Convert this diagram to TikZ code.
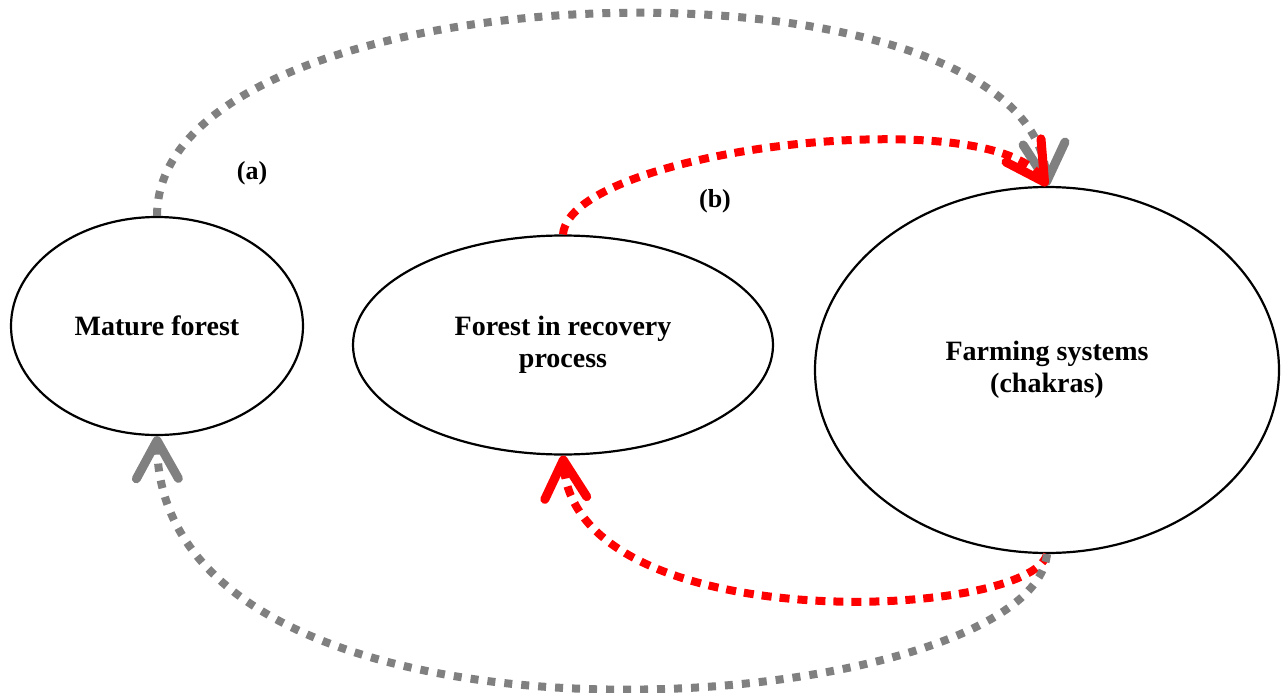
\documentclass[tikz,border=0pt]{standalone}
\usepackage{fontspec}
\setmainfont{Liberation Serif}
\usetikzlibrary{shapes.geometric,arrows.meta}

\begin{document}
\begin{tikzpicture}[x=1pt,y=-1pt,
    state/.style={draw,ellipse,line width=2.2pt,inner sep=0pt,align=center,
        font=\fontsize{28}{32}\selectfont\bfseries},
    tip/.style={-{Straight Barb[length=38pt,width=42pt,round,line width=9pt]}},
    grayflow/.style={line width=8pt,color=gray,dash pattern=on 8pt off 9pt,tip},
    redflow/.style={line width=8pt,color=red,dash pattern=on 10pt off 8pt,tip},
    lbl/.style={font=\fontsize{26}{30}\selectfont\bfseries}]
    \useasboundingbox (0,0) rectangle (1282,693);

    % Land-use states
    \node[state,minimum width=292pt,minimum height=218pt] (mature) at (157,326) {Mature forest};
    \node[state,minimum width=420pt,minimum height=219pt] (recovery) at (563,345) {Forest in recovery\\process};
    \node[state,minimum width=464pt,minimum height=366pt] (farming) at (1047,370) {Farming systems\\(chakras)};

    % Conversion to farming
    \draw[grayflow] (mature.north) .. controls (157,-35) and (1030,-60) .. (farming.north);
    \draw[redflow] (recovery.north) .. controls (570,150) and (990,100) .. (farming.north);

    % Abandonment and regrowth
    \draw[redflow] (farming.south) .. controls (1030,620) and (575,640) .. (recovery.south);
    \draw[grayflow] (farming.south) .. controls (1030,720) and (160,785) .. (mature.south);

    % Labels
    \node[lbl] (la) at (252,173) {(a)};
    \node[lbl] (lb) at (715,201) {(b)};
\end{tikzpicture}
\end{document}
